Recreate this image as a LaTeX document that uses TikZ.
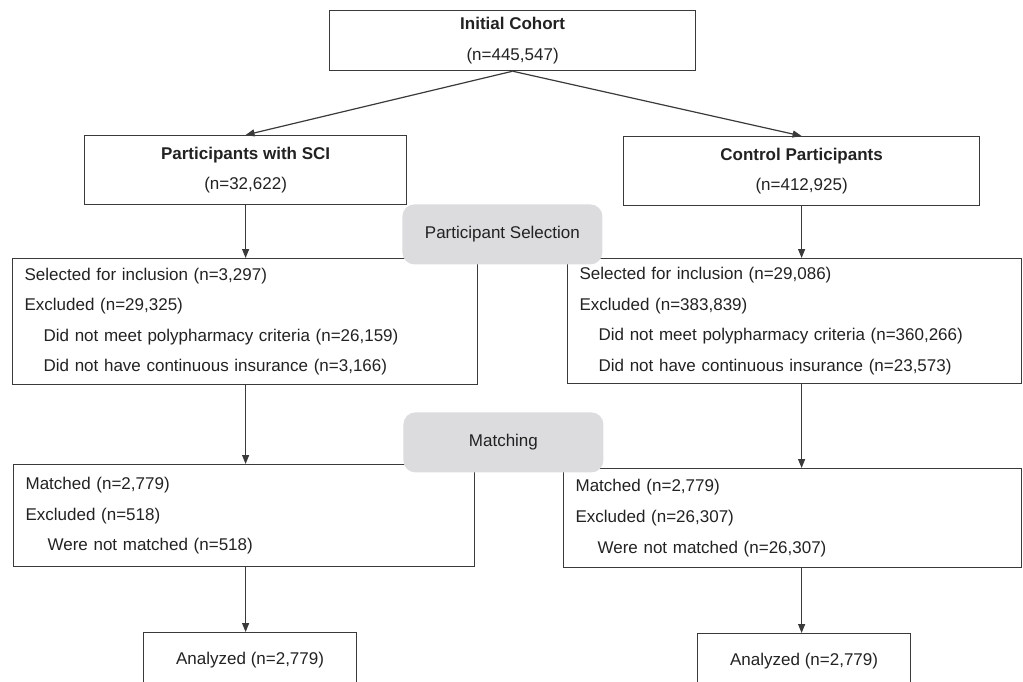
\documentclass[tikz,border=0pt]{standalone}
\usepackage{fontspec}
\setmainfont{Liberation Sans}
\usetikzlibrary{arrows.meta}
\definecolor{linegray}{HTML}{3A3A3A}
\definecolor{labelgray}{HTML}{DCDCDE}
\definecolor{inkgray}{HTML}{222222}

\begin{document}
\begin{tikzpicture}[x=0.5pt, y=-0.5pt,
  every node/.style={font=\fontsize{8.5pt}{15.3pt}\selectfont, text=inkgray},
  box/.style={rectangle, draw=linegray, line width=0.6pt, anchor=north west, inner xsep=6pt, inner ysep=0pt},
  listbox/.style={box, align=left},
  phase/.style={rectangle, rounded corners=6pt, fill=labelgray, anchor=north west, minimum width=100pt, minimum height=30pt, align=center},
  flow/.style={draw=linegray, line width=0.6pt, -{Triangle[length=4.5pt, width=3.5pt]}}]
\useasboundingbox (0,0) rectangle (1023,681);
\clip (0,0) rectangle (1023,681);

\node (init) [box, align=center, minimum width=183pt, minimum height=30pt] at (329,10) {\textbf{Initial Cohort}\\(n=445,547)};
\node (sci) [box, align=center, minimum width=161pt, minimum height=34.5pt] at (84,135) {\textbf{Participants with SCI}\\(n=32,622)};
\node (ctrl) [box, align=center, minimum width=178pt, minimum height=34.5pt] at (623,136) {\textbf{Control Participants}\\(n=412,925)};

\node (lsel) [listbox, text width=220.5pt, minimum height=63pt] at (12,258) {Selected for inclusion (n=3,297)\\Excluded (n=29,325)\\\hspace*{9.5pt}Did not meet polypharmacy criteria (n=26,159)\\\hspace*{9.5pt}Did not have continuous insurance (n=3,166)};
\node (rsel) [listbox, text width=215pt, minimum height=62.5pt] at (567,258) {Selected for inclusion (n=29,086)\\Excluded (n=383,839)\\\hspace*{9.5pt}Did not meet polypharmacy criteria (n=360,266)\\\hspace*{9.5pt}Did not have continuous insurance (n=23,573)};

\node (lmat) [listbox, text width=218.5pt, minimum height=51pt] at (13,464) {Matched (n=2,779)\\Excluded (n=518)\\\hspace*{11pt}Were not matched (n=518)};
\node (rmat) [listbox, text width=217pt, minimum height=49.5pt] at (563,468) {Matched (n=2,779)\\Excluded (n=26,307)\\\hspace*{11pt}Were not matched (n=26,307)};

\node (lana) [box, align=center, minimum width=106.5pt, minimum height=27pt] at (143,632) {Analyzed (n=2,779)};
\node (rana) [box, align=center, minimum width=106.5pt, minimum height=27pt] at (697,633) {Analyzed (n=2,779)};

\draw [flow] (init.south) -- (sci.north);
\draw [flow] (init.south) -- (ctrl.north);
\draw [flow] (sci.south) -- (sci.south |- lsel.north);
\draw [flow] (ctrl.south) -- (ctrl.south |- rsel.north);
\draw [flow] (sci.south |- lsel.south) -- (sci.south |- lmat.north);
\draw [flow] (ctrl.south |- rsel.south) -- (ctrl.south |- rmat.north);
\draw [flow] (sci.south |- lmat.south) -- (sci.south |- lana.north);
\draw [flow] (ctrl.south |- rmat.south) -- (ctrl.south |- rana.north);

% phase labels sit on top of the box borders
\node (select) [phase] at (402,204) {Participant Selection};
\node (match) [phase] at (403,412) {Matching};
\end{tikzpicture}
\end{document}
